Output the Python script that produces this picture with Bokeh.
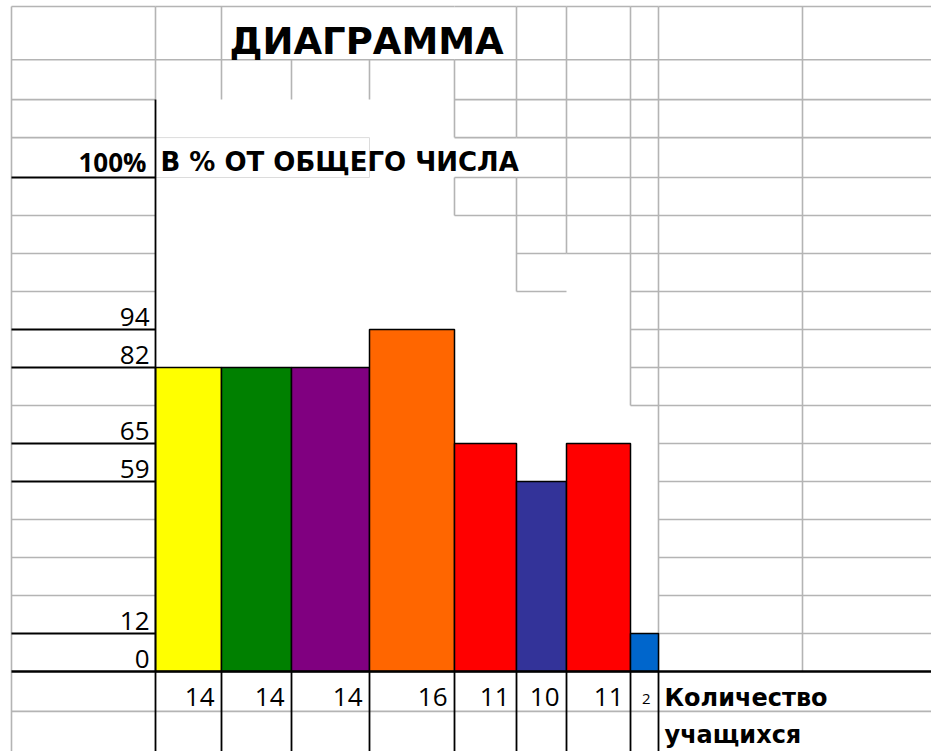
from bokeh.plotting import figure
from bokeh.models import Range1d, ColumnDataSource
from bokeh.core.properties import value
from bokeh.embed import file_html
from bokeh.resources import INLINE

# ---------------- data ----------------
percent_values = [82, 82, 82, 94, 65, 59, 65, 12]
student_counts = [14, 14, 14, 16, 11, 10, 11, 2]
bar_colors = ["#FFFF00", "#008000", "#800080", "#FF6600", "#FF0000", "#333399", "#FF0000", "#0066CC"]
axis_levels = [0, 12, 59, 65, 82, 94, 100]
axis_labels = ["0", "12", "59", "65", "82", "94", "100%"]
title_text = "ДИАГРАММА"
subtitle_text = "В % ОТ ОБЩЕГО ЧИСЛА"
caption_lines = ["Количество", "учащихся"]

# ---------------- layout (spreadsheet geometry) ----------------
level_rows = [0, 1, 5, 6, 8, 9, 13]          # sheet row where each level line sits
col_edges = [11, 155, 221, 291, 369, 454, 516, 566, 630, 658, 802, 931]
row_edges = [17.5, 16.1, 15.05, 14.05, 13, 12, 11, 10, 9, 8, 7, 6, 5, 4, 3, 2, 1, 0, -1.05]
ROW_PX = 38.0
W, H = 931, 751
Y_TOP = 671 / ROW_PX
Y_BOTTOM = Y_TOP - H / ROW_PX
GRAY = "#b4b4b4"


def base(row, fs):
    """text anchor so that the alphabetic baseline lands on `row`"""
    return row + 0.32 * fs / ROW_PX


p = figure(width=W, height=H, output_backend="svg", toolbar_location=None,
           x_range=Range1d(0, W), y_range=Range1d(Y_BOTTOM, Y_TOP),
           min_border=0, outline_line_color=None, background_fill_color="white")
p.axis.visible = False
p.grid.visible = False

# ---- gray sheet grid ----
hx0, hx1, hy = [], [], []
def hseg(x0, x1, y):
    hx0.append(x0); hx1.append(x1); hy.append(y)

for y in row_edges:
    if y not in level_rows:
        hseg(col_edges[0], col_edges[1], y)
    if y >= 16.1:
        hseg(col_edges[1], col_edges[5], y)
    if y >= 12:
        hseg(col_edges[5], col_edges[6], y)
    if y >= 10:
        hseg(col_edges[6], col_edges[7], y)
    if y >= 11:
        hseg(col_edges[7], col_edges[8], y)
    if y >= 7:
        hseg(col_edges[8], col_edges[9], y)
    if y != 0:
        hseg(col_edges[9], W, y)
hseg(col_edges[1], col_edges[9], -1.05)

vx, vy0, vy1 = [], [], []
def vseg(x, y0, y1):
    vx.append(x); vy0.append(y0); vy1.append(y1)

vseg(col_edges[0], Y_BOTTOM, 17.5)
vseg(col_edges[1], 15.05, 17.5)
vseg(col_edges[2], 15.05, 17.5)
vseg(col_edges[3], 15.05, 16.1)
vseg(col_edges[4], 15.05, 16.1)
vseg(col_edges[5], 14.05, 16.1)
vseg(col_edges[5], 12, 13)
vseg(col_edges[6], 14.05, 17.5)
vseg(col_edges[6], 10, 13)
vseg(col_edges[7], 11, 17.5)
vseg(col_edges[8], 7, 17.5)
vseg(col_edges[9], 0, 17.5)
vseg(col_edges[10], 0, 17.5)

p.segment(x0=hx0, x1=hx1, y0=hy, y1=hy, line_color=GRAY, line_width=1.6)
p.segment(x0=vx, x1=vx, y0=vy0, y1=vy1, line_color=GRAY, line_width=1.6)

# faint box around the subtitle cell
p.quad(left=[col_edges[1]], right=[col_edges[4]], bottom=[13], top=[14.05],
       fill_color=None, line_color="#dcdcdc", line_width=1)

# ---- bars ----
bar_tops = [level_rows[axis_levels.index(v)] for v in percent_values]
src = ColumnDataSource(dict(
    left=col_edges[1:1 + len(percent_values)],
    right=col_edges[2:2 + len(percent_values)],
    top=bar_tops,
    color=bar_colors,
))
p.quad(left="left", right="right", bottom=0, top="top", fill_color="color",
       line_color="black", line_width=1.5, source=src)

# ---- black lines ----
lv = [r for r in level_rows if r != 0]
p.segment(x0=[col_edges[0]] * len(lv), x1=[col_edges[1]] * len(lv), y0=lv, y1=lv,
          line_color="black", line_width=1.8)
p.segment(x0=[col_edges[0]], x1=[W], y0=[0], y1=[0], line_color="black", line_width=2.5)
p.segment(x0=[col_edges[1]], x1=[col_edges[1]], y0=[Y_BOTTOM], y1=[15.05],
          line_color="black", line_width=1.8)
bx = col_edges[2:10]
p.segment(x0=bx, x1=bx, y0=[Y_BOTTOM] * len(bx), y1=[0] * len(bx),
          line_color="black", line_width=1.8)

# ---- texts ----
p.text(x=[229], y=[base(16.26, 37)], text=[title_text], text_font=value("DejaVu Sans"),
       text_font_style="bold", text_font_size=value("37px"),
       text_align="left", text_baseline="alphabetic", text_color="black")
p.text(x=[160], y=[base(13.18, 26)], text=[subtitle_text], text_font=value("DejaVu Sans"),
       text_font_style="bold", text_font_size=value("26px"),
       text_align="left", text_baseline="alphabetic", text_color="black")

plain_rows = [r for r, lab in zip(level_rows, axis_labels) if not lab.endswith("%")]
plain_labs = [lab for lab in axis_labels if not lab.endswith("%")]
p.text(x=[149] * len(plain_rows), y=[base(r + 0.1, 26) for r in plain_rows], text=plain_labs,
       text_font=value("Open Sans"), text_font_size=value("26px"),
       text_align="right", text_baseline="alphabetic", text_color="black")
pct_rows = [r for r, lab in zip(level_rows, axis_labels) if lab.endswith("%")]
pct_labs = [lab for lab in axis_labels if lab.endswith("%")]
p.text(x=[146] * len(pct_rows), y=[base(r + 0.18, 26) for r in pct_rows], text=pct_labs,
       text_font=value("Open Sans"), text_font_style="bold", text_font_size=value("26px"),
       text_align="right", text_baseline="alphabetic", text_color="black")

# counts under the bars
cnt_x, cnt_t, cnt_x_s, cnt_t_s = [], [], [], []
for i, c in enumerate(student_counts):
    right = col_edges[2 + i]
    width = right - col_edges[1 + i]
    if width < 40:
        cnt_x_s.append(right - 8); cnt_t_s.append(str(c))
    else:
        cnt_x.append(right - 7); cnt_t.append(str(c))
p.text(x=cnt_x, y=[base(-0.895, 26)] * len(cnt_x), text=cnt_t, text_font=value("Open Sans"),
       text_font_size=value("26px"), text_align="right", text_baseline="alphabetic",
       text_color="black")
p.text(x=cnt_x_s, y=[base(-0.84, 15)] * len(cnt_x_s), text=cnt_t_s, text_font=value("Open Sans"),
       text_font_size=value("15px"), text_align="right", text_baseline="alphabetic",
       text_color="black")

p.text(x=[664, 664], y=[base(-0.895, 24), base(-1.87, 24)], text=caption_lines,
       text_font=value("DejaVu Sans"), text_font_style="bold", text_font_size=value("24px"),
       text_align="left", text_baseline="alphabetic", text_color="black")

open("out.html", "w").write(file_html(p, INLINE))
